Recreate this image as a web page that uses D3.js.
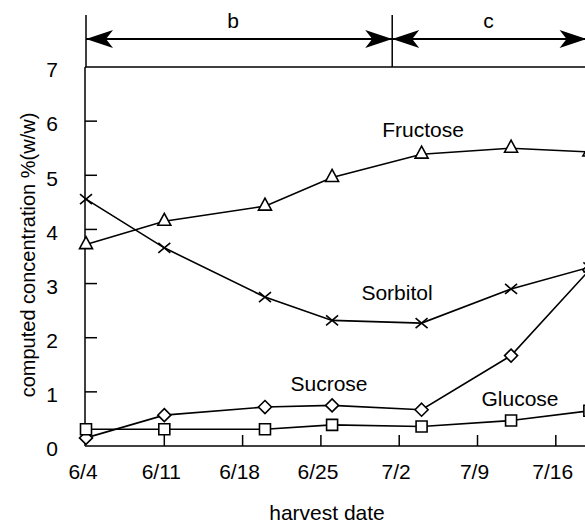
<!DOCTYPE html>
<html>
<head>
<meta charset="utf-8">
<script src="https://cdn.jsdelivr.net/npm/d3@7"></script>
<style>
  body { margin: 0; background: #fff; }
  svg { display: block; font-family: "Liberation Sans", Arial, sans-serif; }
</style>
</head>
<body>
<script>
// harvest dates (x) and computed concentrations %(w/w)
var harvestDates = ["2000-06-04","2000-06-11","2000-06-20","2000-06-26","2000-07-04","2000-07-12","2000-07-19"];
var fructose = [3.72, 4.15, 4.43, 4.96, 5.39, 5.50, 5.43];
var sorbitol = [4.56, 3.66, 2.75, 2.32, 2.27, 2.90, 3.30];
var sucrose  = [0.15, 0.57, 0.72, 0.75, 0.67, 1.67, 3.25];
var glucose  = [0.31, 0.31, 0.31, 0.39, 0.36, 0.47, 0.65];

var tickDates  = ["2000-06-04","2000-06-11","2000-06-18","2000-06-25","2000-07-02","2000-07-09","2000-07-16","2000-07-23"];
var tickLabels = ["6/4","6/11","6/18","6/25","7/2","7/9","7/16",""];
var yTicks = [0,1,2,3,4,5,6,7];

// growth periods shown above the plot
var periodNames  = ["b","c"];
var periodStarts = ["2000-06-04T00:00","2000-07-01T09:00"];
var periodEnds   = ["2000-07-01T09:00","2000-07-18T18:00"];

var W = 585, H = 523;
var parse = d3.isoParse;

var x = d3.scaleTime()
  .domain([parse("2000-06-04"), parse("2000-07-23")])
  .range([86, 86 + 49 * 11.186]);
var y = d3.scaleLinear().domain([0, 7]).range([446, 67]);

var svg = d3.select("body").append("svg").attr("width", W).attr("height", H);

// frame: left axis, top line, bottom axis
svg.append("line").attr("x1", 85).attr("x2", 85).attr("y1", 67).attr("y2", 446)
  .attr("stroke", "#000").attr("stroke-width", 1.5);
svg.append("line").attr("x1", 85).attr("x2", 700).attr("y1", 67).attr("y2", 67)
  .attr("stroke", "#000").attr("stroke-width", 1.5);
svg.append("line").attr("x1", 85).attr("x2", 700).attr("y1", 446).attr("y2", 446)
  .attr("stroke", "#000").attr("stroke-width", 1.5);

// y ticks (inward)
svg.selectAll(".ytick").data(yTicks.slice(1, 7)).enter().append("line")
  .attr("x1", 85).attr("x2", 97)
  .attr("y1", function(d) { return y(d); }).attr("y2", function(d) { return y(d); })
  .attr("stroke", "#000").attr("stroke-width", 1.5);
svg.selectAll(".ylab").data(yTicks).enter().append("text")
  .attr("x", 58).attr("y", function(d) { return y(d) + 3; })
  .attr("dy", "0.35em").attr("text-anchor", "end")
  .attr("font-size", 21).text(function(d) { return d; });

// x ticks (inward)
svg.selectAll(".xtick").data(tickDates.slice(1)).enter().append("line")
  .attr("x1", function(d) { return x(parse(d)); }).attr("x2", function(d) { return x(parse(d)); })
  .attr("y1", 446).attr("y2", 435)
  .attr("stroke", "#000").attr("stroke-width", 1.5);
svg.selectAll(".xlab").data(tickDates).enter().append("text")
  .attr("x", function(d) { return x(parse(d)) - 3; }).attr("y", 479)
  .attr("text-anchor", "middle").attr("font-size", 21)
  .text(function(d, i) { return tickLabels[i]; });

// axis titles
svg.append("text").attr("x", 327).attr("y", 520).attr("text-anchor", "middle")
  .attr("font-size", 21).text("harvest date");
svg.append("text").attr("transform", "translate(35,255) rotate(-90)")
  .attr("text-anchor", "middle").attr("font-size", 20)
  .text("computed concentration %(w/w)");

// period arrows
function arrowHead(tipX, tipY, dir) {
  var L = 27, h = 9, n = 20;
  return "M" + tipX + "," + tipY +
    "L" + (tipX - dir * L) + "," + (tipY - h) +
    "L" + (tipX - dir * n) + "," + tipY +
    "L" + (tipX - dir * L) + "," + (tipY + h) + "Z";
}
var ay = 39;
periodNames.forEach(function(name, i) {
  var x0 = x(parse(periodStarts[i])), x1 = x(parse(periodEnds[i]));
  svg.append("line").attr("x1", x0).attr("x2", x1).attr("y1", ay).attr("y2", ay)
    .attr("stroke", "#000").attr("stroke-width", 2);
  svg.append("path").attr("d", arrowHead(x0, ay, -1)).attr("fill", "#000");
  svg.append("path").attr("d", arrowHead(x1, ay, 1)).attr("fill", "#000");
  svg.append("line").attr("x1", x0).attr("x2", x0).attr("y1", 15).attr("y2", 67)
    .attr("stroke", "#000").attr("stroke-width", 1.5);
  svg.append("text").attr("x", (x0 + Math.min(x1, 585)) / 2 + (i ? 0 : -6)).attr("y", 28)
    .attr("text-anchor", "middle").attr("font-size", 21).text(name);
});

// series
var line = d3.line()
  .x(function(d, i) { return x(parse(harvestDates[i])); })
  .y(function(d) { return y(d); });

var series = [
  { name: "Fructose", values: fructose, marker: "triangle" },
  { name: "Sorbitol", values: sorbitol, marker: "cross" },
  { name: "Sucrose", values: sucrose, marker: "diamond" },
  { name: "Glucose", values: glucose, marker: "square" }
];

function markerPath(type, cx, cy) {
  if (type === "triangle") {
    return "M" + cx + "," + (cy - 8) + "L" + (cx + 6.5) + "," + (cy + 4) + "L" + (cx - 6.5) + "," + (cy + 4) + "Z";
  } else if (type === "diamond") {
    return "M" + cx + "," + (cy - 6.5) + "L" + (cx + 6.5) + "," + cy + "L" + cx + "," + (cy + 6.5) + "L" + (cx - 6.5) + "," + cy + "Z";
  } else if (type === "square") {
    return "M" + (cx - 5.5) + "," + (cy - 5.5) + "h11v11h-11Z";
  } else {
    return "M" + (cx - 6) + "," + (cy - 5) + "L" + (cx + 6) + "," + (cy + 5) +
      "M" + (cx + 6) + "," + (cy - 5) + "L" + (cx - 6) + "," + (cy + 5);
  }
}

series.forEach(function(s) {
  svg.append("path").datum(s.values).attr("d", line)
    .attr("fill", "none").attr("stroke", "#000").attr("stroke-width", 1.6);
  svg.selectAll(null).data(s.values).enter().append("path")
    .attr("d", function(d, i) { return markerPath(s.marker, x(parse(harvestDates[i])), y(d)); })
    .attr("fill", s.marker === "cross" ? "none" : "#fff")
    .attr("stroke", "#000").attr("stroke-width", 1.6);
});

// series labels
var labelNames = ["Fructose","Sorbitol","Sucrose","Glucose"];
var labelX = [423, 397, 329, 520];
var labelY = [137, 300, 391, 406];
svg.selectAll(".slab").data(labelNames).enter().append("text")
  .attr("x", function(d, i) { return labelX[i]; })
  .attr("y", function(d, i) { return labelY[i]; })
  .attr("text-anchor", "middle").attr("font-size", 21)
  .text(function(d) { return d; });
</script>
</body>
</html>
